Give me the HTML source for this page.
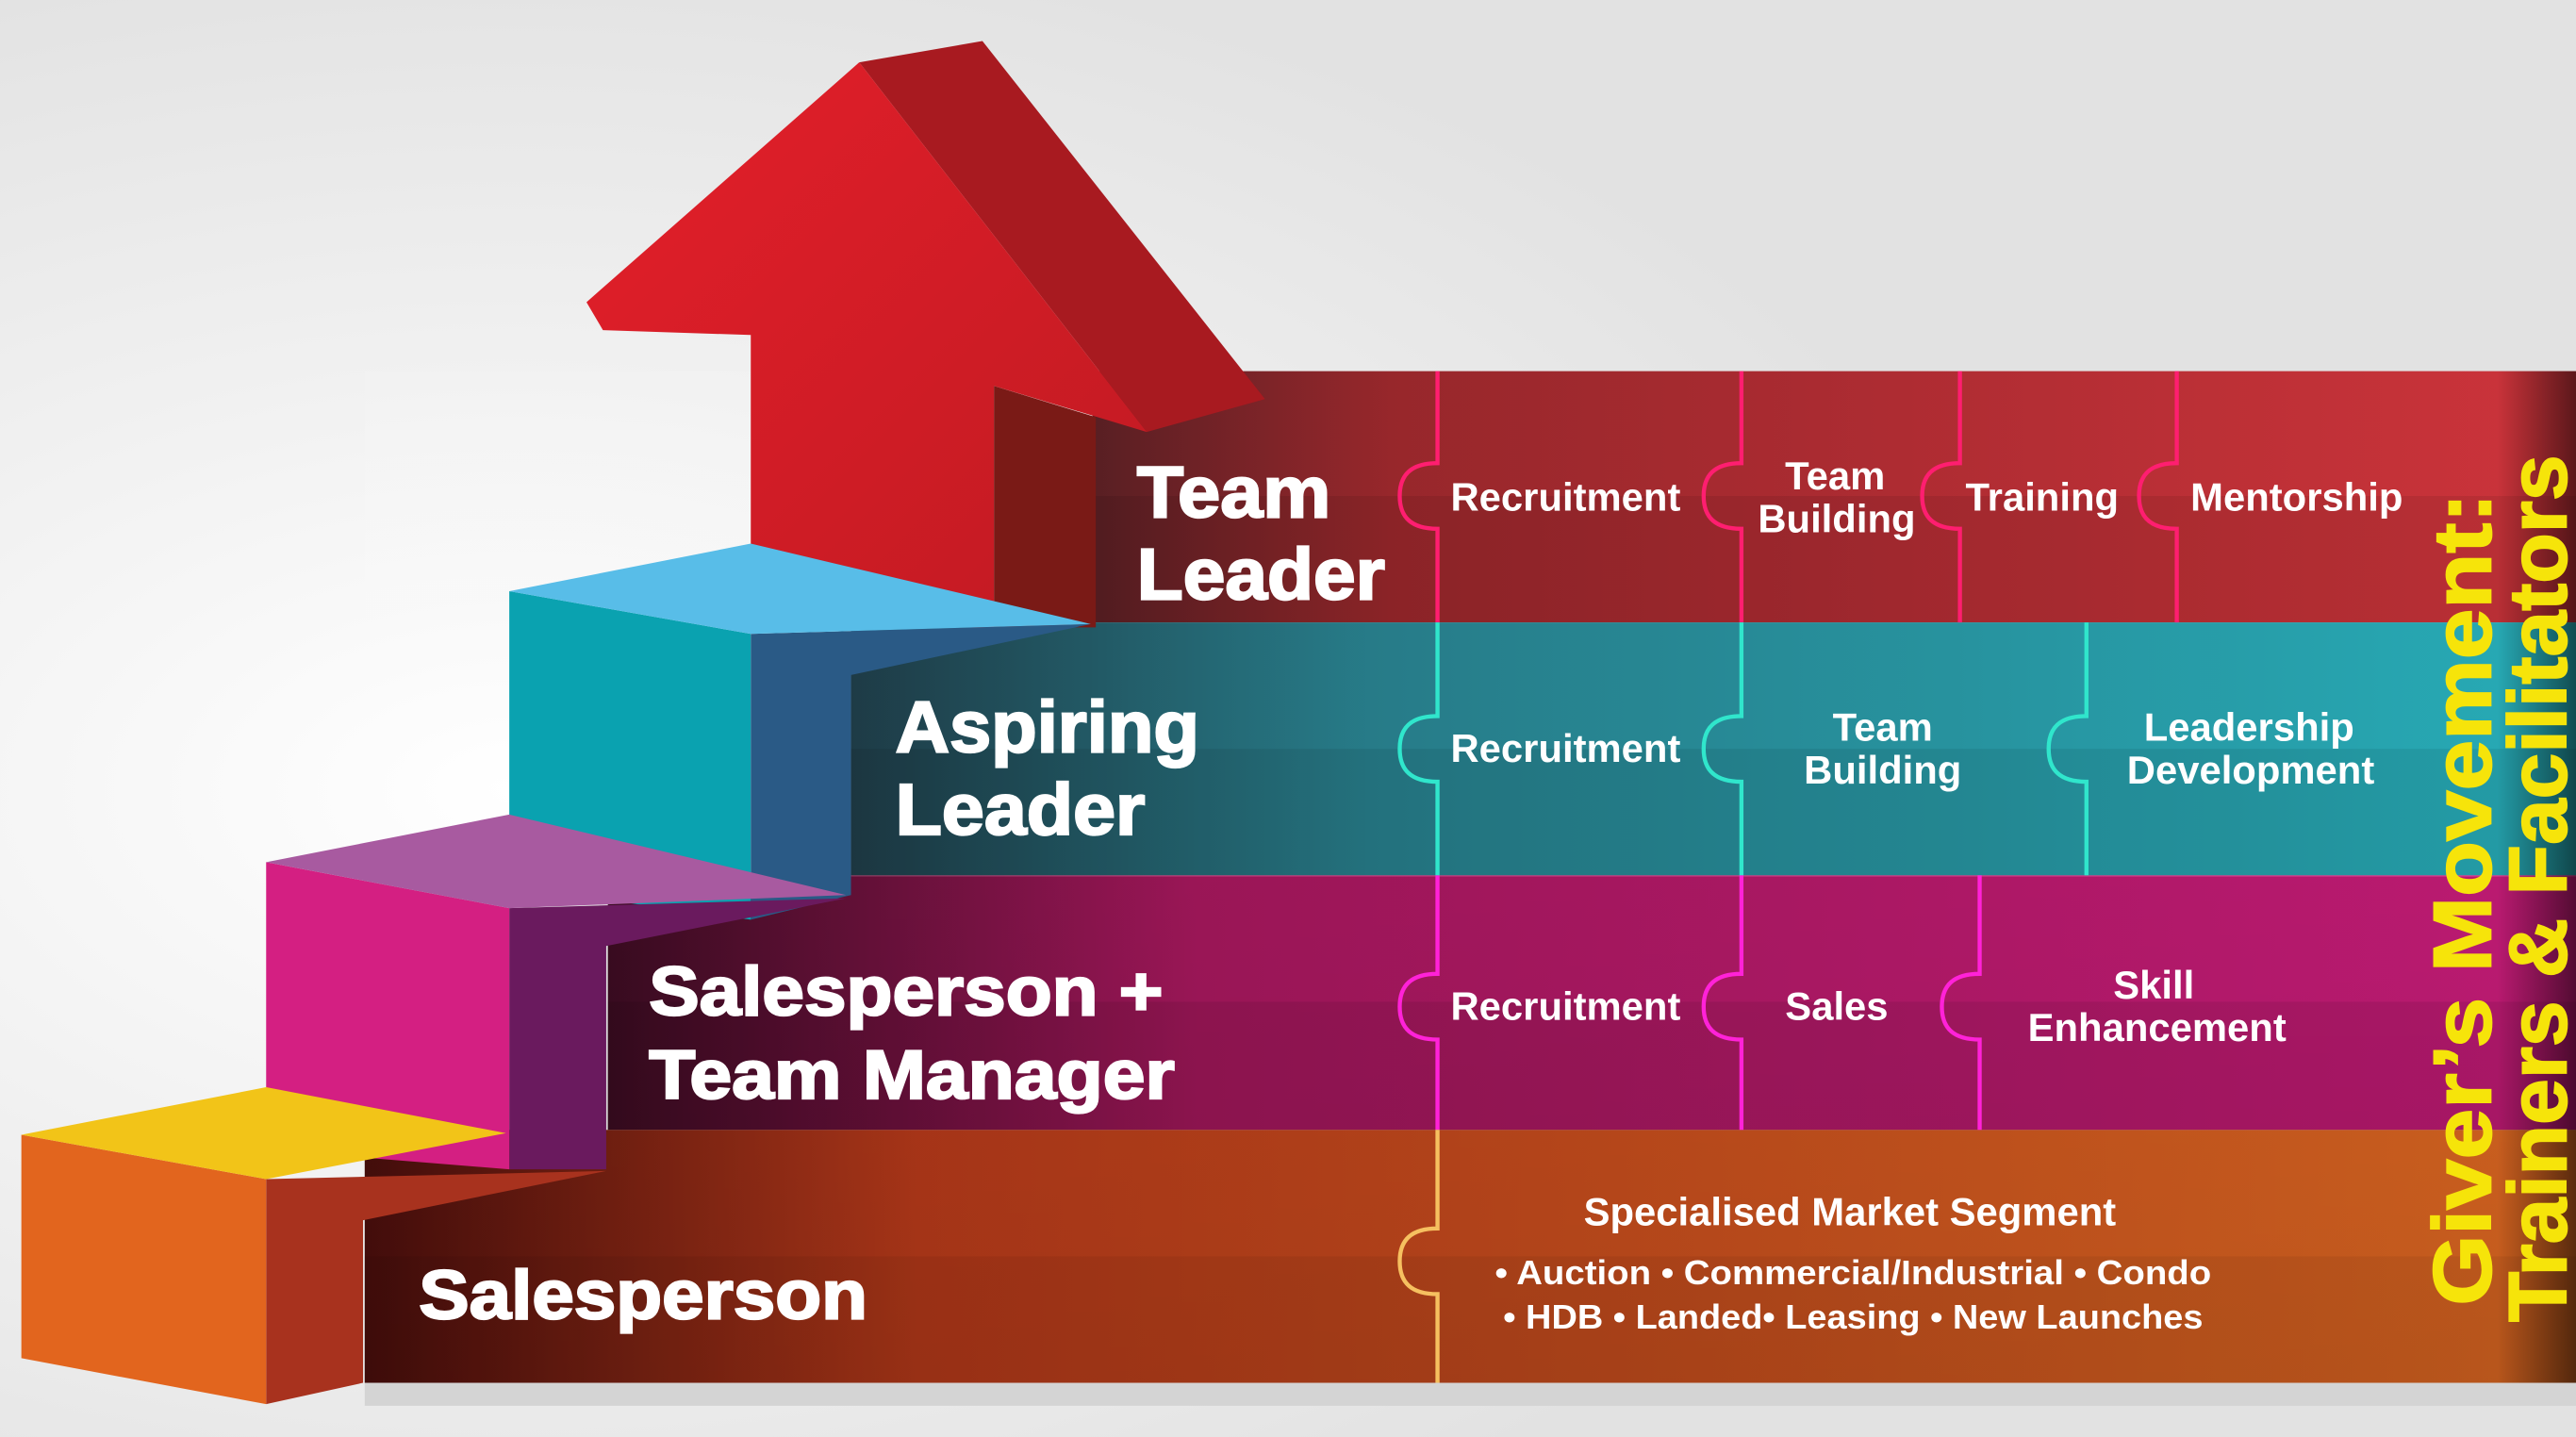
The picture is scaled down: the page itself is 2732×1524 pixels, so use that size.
<!DOCTYPE html>
<html><head><meta charset="utf-8"><style>
html,body{margin:0;padding:0;background:#e6e6e6;}
svg{display:block;}
text{font-family:"Liberation Sans",sans-serif;font-weight:bold;fill:#fff;}
text.y{fill:#f6e40a;stroke:#f6e40a;stroke-width:1;}
text.big{stroke:#fff;stroke-width:1.3;}
</style></head><body>
<svg width="2732" height="1524" viewBox="0 0 1568 875" preserveAspectRatio="none" xmlns="http://www.w3.org/2000/svg">
<defs>
<radialGradient id="bg" cx="0.2" cy="0.55" r="0.6"><stop offset="0" stop-color="#ffffff"/><stop offset="1" stop-color="#e2e2e2"/></radialGradient>
<linearGradient id="gr" x1="0" x2="1"><stop offset="0" stop-color="#4a0c10"/><stop offset="0.2" stop-color="#8e1419"/><stop offset="1" stop-color="#c8222a"/></linearGradient>
<linearGradient id="gt" x1="0" x2="1"><stop offset="0" stop-color="#0b2a36"/><stop offset="0.3" stop-color="#14707e"/><stop offset="1" stop-color="#14a4b0"/></linearGradient>
<linearGradient id="gp" x1="0" x2="1"><stop offset="0" stop-color="#3d0c22"/><stop offset="0.3" stop-color="#a8185e"/><stop offset="1" stop-color="#cc1c7c"/></linearGradient>
<linearGradient id="go" x1="0" x2="1"><stop offset="0" stop-color="#4a0e0c"/><stop offset="0.25" stop-color="#b83a1a"/><stop offset="1" stop-color="#e06a22"/></linearGradient>
<linearGradient id="shade" x1="0" x2="1"><stop offset="0" stop-color="#000" stop-opacity="0"/><stop offset="1" stop-color="#000" stop-opacity="0.55"/></linearGradient>
<linearGradient id="hl" x1="0" y1="0" x2="0" y2="1"><stop offset="0" stop-color="#fff" stop-opacity="0.08"/><stop offset="0.5" stop-color="#fff" stop-opacity="0.08"/><stop offset="0.5" stop-color="#000" stop-opacity="0.08"/><stop offset="1" stop-color="#000" stop-opacity="0.12"/></linearGradient>
<linearGradient id="arF" x1="0" y1="0" x2="1" y2="1"><stop offset="0" stop-color="#e41f2a"/><stop offset="1" stop-color="#c01a22"/></linearGradient>
</defs>
<rect width="1568" height="875" fill="url(#bg)"/>
<rect x="222" y="842" width="1346" height="14" fill="#d4d4d4"/>

<!-- bands -->
<rect x="665" y="226" width="903" height="153" fill="url(#gr)"/>
<rect x="518" y="379" width="1050" height="154" fill="url(#gt)"/>
<rect x="370" y="533" width="1198" height="155" fill="url(#gp)"/>
<rect x="222" y="688" width="1346" height="154" fill="url(#go)"/>
<rect x="222" y="226" width="1346" height="616" fill="url(#hl)"/>
<rect x="665" y="302" width="903" height="77" fill="#000" opacity="0.08"/>
<rect x="518" y="456" width="1050" height="77" fill="#000" opacity="0.08"/>
<rect x="370" y="610" width="1198" height="78" fill="#000" opacity="0.08"/>
<rect x="222" y="765" width="1346" height="77" fill="#000" opacity="0.06"/>
<rect x="1520" y="226" width="48" height="616" fill="url(#shade)"/>

<!-- connectors -->
<g fill="none" stroke-width="2.5">
<g stroke="#ff1e70">
<path d="M875,226 V282 C858,282 852,290 852,302 C852,314 858,322 875,322 V379"/>
<path d="M1060,226 V282 C1043,282 1037,290 1037,302 C1037,314 1043,322 1060,322 V379"/>
<path d="M1193,226 V282 C1176,282 1170,290 1170,302 C1170,314 1176,322 1193,322 V379"/>
<path d="M1325,226 V282 C1308,282 1302,290 1302,302 C1302,314 1308,322 1325,322 V379"/>
</g>
<g stroke="#30e6cc">
<path d="M875,379 V436 C858,436 852,444 852,456 C852,468 858,476 875,476 V533"/>
<path d="M1060,379 V436 C1043,436 1037,444 1037,456 C1037,468 1043,476 1060,476 V533"/>
<path d="M1270,379 V436 C1253,436 1247,444 1247,456 C1247,468 1253,476 1270,476 V533"/>
</g>
<g stroke="#ff22d8">
<path d="M875,533 V593 C858,593 852,601 852,613 C852,625 858,633 875,633 V688"/>
<path d="M1060,533 V593 C1043,593 1037,601 1037,613 C1037,625 1043,633 1060,633 V688"/>
<path d="M1205,533 V593 C1188,593 1182,601 1182,613 C1182,625 1188,633 1205,633 V688"/>
</g>
<path stroke="#f6c060" d="M875,688 V748 C858,748 852,756 852,768 C852,780 858,788 875,788 V842"/>
</g>

<!-- arrow -->
<polygon points="523,38 598,25 770,243 698,263" fill="#a81a20"/>
<polygon points="605,235 667,254 667,382 605,382" fill="#7a1a16"/>
<polygon points="357,184 523,38 698,263 605,235 605,382 457,382 457,204 367,201" fill="url(#arF)"/>

<!-- blue step -->
<polygon points="457,386 664,380 518,411 518,545 457,560" fill="#2a5a86"/>
<polygon points="310,360 457,386 457,560 310,540" fill="#0aa2b0"/>
<polygon points="310,360 457,331 664,380 457,386" fill="#58bde8"/>

<!-- pink step -->
<polygon points="310,553 515,547 369,576 369,712 310,712" fill="#6a1a5e"/>
<polygon points="162,525 310,553 310,712 162,700" fill="#d41f82"/>
<polygon points="162,525 310,496 515,545 310,553" fill="#a85aa0"/>

<!-- yellow step -->
<polygon points="162,718 369,713 221,743 221,842 162,855" fill="#a8321e"/>
<polygon points="13,691 162,718 162,855 13,827" fill="#e2651e"/>
<polygon points="13,691 162,662 308,690 162,718" fill="#f2c418"/>

<!-- big labels -->
<g font-size="44">
<text class="big" x="692" y="315" textLength="118" lengthAdjust="spacingAndGlyphs">Team</text>
<text class="big" x="692" y="365" textLength="151" lengthAdjust="spacingAndGlyphs">Leader</text>
<text class="big" x="545" y="458" textLength="185" lengthAdjust="spacingAndGlyphs">Aspiring</text>
<text class="big" x="545" y="508" textLength="152" lengthAdjust="spacingAndGlyphs">Leader</text>
<text class="big" x="395" y="618" font-size="42" textLength="313" lengthAdjust="spacingAndGlyphs">Salesperson +</text>
<text class="big" x="395" y="669" font-size="42" textLength="320" lengthAdjust="spacingAndGlyphs">Team Manager</text>
<text class="big" x="255" y="803" font-size="42" textLength="273" lengthAdjust="spacingAndGlyphs">Salesperson</text>
</g>

<!-- small labels -->
<g font-size="24" text-anchor="middle">
<text x="953" y="311">Recruitment</text>
<text x="1117" y="298">Team</text>
<text x="1118" y="324">Building</text>
<text x="1243" y="311">Training</text>
<text x="1398" y="311">Mentorship</text>
<text x="953" y="464">Recruitment</text>
<text x="1146" y="451">Team</text>
<text x="1146" y="477">Building</text>
<text x="1369" y="451">Leadership</text>
<text x="1370" y="477">Development</text>
<text x="953" y="621">Recruitment</text>
<text x="1118" y="621">Sales</text>
<text x="1311" y="608">Skill</text>
<text x="1313" y="634">Enhancement</text>
<text x="1126" y="746">Specialised Market Segment</text>
<text x="1128" y="782" font-size="21" textLength="436" lengthAdjust="spacingAndGlyphs">• Auction • Commercial/Industrial • Condo</text>
<text x="1128" y="809" font-size="21" textLength="426" lengthAdjust="spacingAndGlyphs">• HDB • Landed• Leasing • New Launches</text>
</g>

<!-- vertical title -->
<g font-size="50">
<text class="y" transform="translate(1516,795) rotate(-90)" textLength="495" lengthAdjust="spacingAndGlyphs">Giver’s Movement:</text>
<text class="y" transform="translate(1562,805) rotate(-90)" textLength="528" lengthAdjust="spacingAndGlyphs">Trainers &amp; Facilitators</text>
</g>
</svg>
</body></html>
